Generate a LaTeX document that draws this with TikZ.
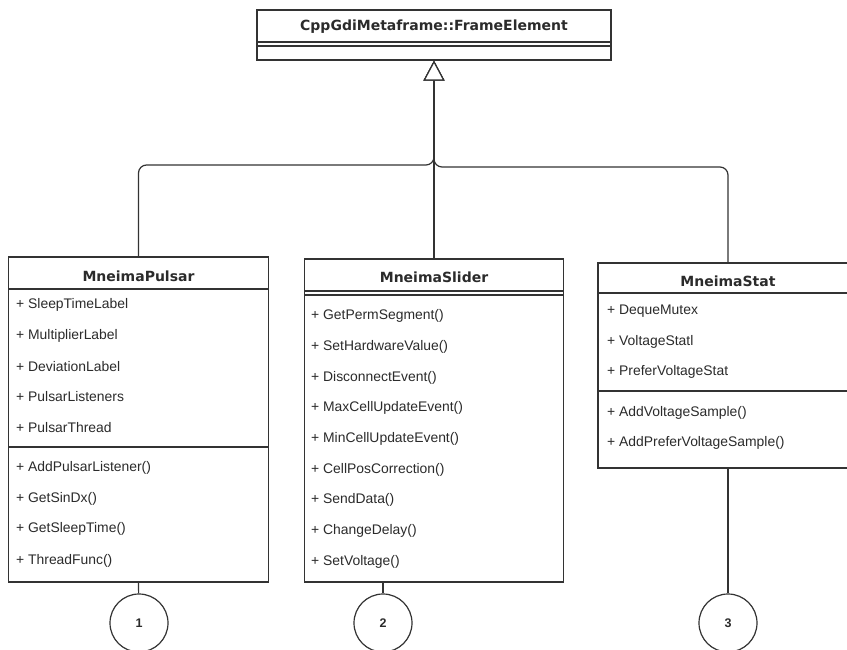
\documentclass[tikz,border=0pt]{standalone}
\usepackage{fontspec}
\setmainfont{Liberation Sans}
\newfontfamily\titlefont{DejaVu Sans}
\usetikzlibrary{arrows.meta}
\definecolor{ln}{HTML}{333333}
\definecolor{tx}{HTML}{2B2B2B}
\begin{document}
\begin{tikzpicture}[x=1pt,y=-1pt,
  umlbox/.style={draw=ln, line width=1.3pt, fill=white, inner sep=0pt, rectangle},
  ttl/.style={font=\titlefont\bfseries\fontsize{14}{16}\selectfont, text=tx, inner sep=0pt},
  row/.style={font=\fontsize{13.9}{16}\selectfont, text=tx, anchor=west, inner sep=0pt},
  sep/.style={draw=ln, line width=1.3pt},
  conn/.style={draw=ln, line width=1.2pt},
  inh/.style={conn, rounded corners=8pt, -{Triangle[length=20pt, width=21pt, fill=white, line width=1.2pt]}},
  num/.style={circle, draw=ln, line width=1.2pt, fill=white, minimum size=58pt, inner sep=0pt, font=\fontsize{12.5}{14}\selectfont\bfseries, text=tx}]
\clip (0,0) rectangle (847,650);
\fill[white] (0,0) rectangle (847,650);

% boxes
\node[umlbox, minimum width=354pt, minimum height=50pt] (top) at (434,35) {};
\node[umlbox, minimum width=260pt, minimum height=325pt] (pulsar) at (138.5,419.5) {};
\node[umlbox, minimum width=259pt, minimum height=323pt] (slider) at (434,420.5) {};
\node[umlbox, minimum width=260pt, minimum height=205pt] (stat) at (728,365.5) {};

% compartment separators
\draw[sep] (257,42) -- (611,42);
\draw[sep] (257,46) -- (611,46);
\draw[sep] (8.5,289) -- (268.5,289);
\draw[sep] (8.5,447) -- (268.5,447);
\draw[sep] (304.5,291) -- (563.5,291);
\draw[sep] (304.5,295) -- (563.5,295);
\draw[sep] (598,293) -- (858,293);
\draw[sep] (598,391) -- (858,391);

% titles
\node[ttl] (ttop) at (434,27) {CppGdiMetaframe::FrameElement};
\node[ttl] (tpulsar) at (138.5,276) {MneimaPulsar};
\node[ttl] (tslider) at (434,277) {MneimaSlider};
\node[ttl] (tstat) at (728,281) {MneimaStat};

% Pulsar rows
\node[row] (p1) at (16,305) {+ SleepTimeLabel};
\node[row] (p2) at (16,336) {+ MultiplierLabel};
\node[row] (p3) at (16,367) {+ DeviationLabel};
\node[row] (p4) at (16,397) {+ PulsarListeners};
\node[row] (p5) at (16,428) {+ PulsarThread};
\node[row] (p6) at (16,468) {+ AddPulsarListener()};
\node[row] (p7) at (16,499) {+ GetSinDx()};
\node[row] (p8) at (16,529) {+ GetSleepTime()};
\node[row] (p9) at (16,561) {+ ThreadFunc()};

% Slider rows
\node[row] (s1) at (311,316) {+ GetPermSegment()};
\node[row] (s2) at (311,347) {+ SetHardwareValue()};
\node[row] (s3) at (311,378) {+ DisconnectEvent()};
\node[row] (s4) at (311,408) {+ MaxCellUpdateEvent()};
\node[row] (s5) at (311,439) {+ MinCellUpdateEvent()};
\node[row] (s6) at (311,470) {+ CellPosCorrection()};
\node[row] (s7) at (311,500) {+ SendData()};
\node[row] (s8) at (311,531) {+ ChangeDelay()};
\node[row] (s9) at (311,562) {+ SetVoltage()};

% Stat rows
\node[row] (m1) at (607,311) {+ DequeMutex};
\node[row] (m2) at (607,342) {+ VoltageStatl};
\node[row] (m3) at (607,372) {+ PreferVoltageStat};
\node[row] (m4) at (607,413) {+ AddVoltageSample()};
\node[row] (m5) at (607,443) {+ AddPreferVoltageSample()};

% circles
\node[num] (c1) at (139,623) {1};
\node[num] (c2) at (383,623) {2};
\node[num] (c3) at (728,623) {3};

% inheritance
\coordinate (busL) at (434,165);
\coordinate (busR) at (434,167);
\draw[inh] (pulsar.north) |- (busL) -- (top.south);
\draw[inh] (stat.north) |- (busR) -- (top.south);
\draw[inh] (slider.north) -- (top.south);

% circle connectors
\draw[conn] (pulsar.south) -- (c1);
\draw[conn] (c2 |- slider.south) -- (c2);
\draw[conn] (stat.south) -- (c3);
\end{tikzpicture}
\end{document}
